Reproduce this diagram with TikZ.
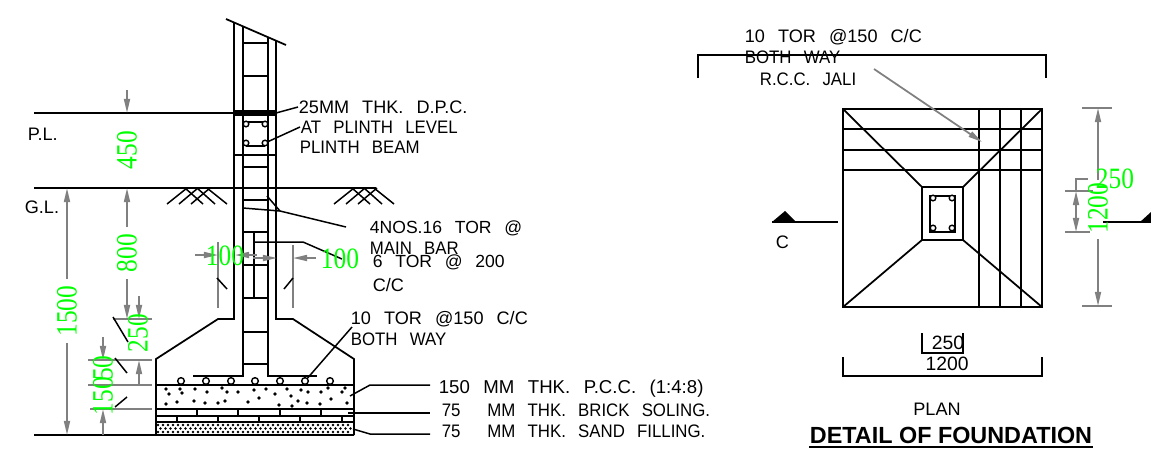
\documentclass[tikz,border=0pt]{standalone}
\usepackage{fontspec}
\setmainfont{Liberation Sans}
\newfontfamily\cadfont[WordSpace=2.6,FakeStretch=0.93]{Liberation Sans}
\newfontfamily\cadnum[WordSpace=2.6]{Liberation Sans}
\newfontfamily\dimfont[FakeStretch=0.86]{Liberation Serif}
\usetikzlibrary{%
  arrows.meta,%
  calc%
}

\begin{document}
\begin{tikzpicture}[
  x=0.02cm, y=-0.02cm,
  >={Stealth[length=8pt,width=3.4pt,inset=0pt]},
  line width=1pt,
  thin line/.style={line width=0.85pt},
  dimline/.style={draw=gray, line width=1pt},
  note/.style={inner sep=0pt, anchor=west, font=\cadfont\fontsize{10.3}{12}\selectfont},
  numnote/.style={note, font=\cadnum\fontsize{#1}{12}\selectfont},
  numnote/.default=10.3,
  dimtext/.style={inner sep=0pt, text=green, font=\dimfont\fontsize{16.8}{18}\selectfont},
  bar/.style={circle, draw=black, fill=white, inner sep=0pt, minimum size=3.2pt, line width=0.8pt}]

\useasboundingbox (0,0) rectangle (1151,451);

\draw (226,19) -- (286,45);
\draw (234,22) -- (234,319) -- (218,319) -- (156,359) -- (156,435);
\draw (276,41) -- (276,319) -- (293,319) -- (354,359) -- (354,435);
\draw (243,26) -- (243,376) -- (193,376);
\draw (268,37) -- (268,376) -- (317,376);
\fill (234,110) rectangle (276,116);

\foreach \y in {43,76,167,200,232,265,298,332,364} {
  \draw [thin line] (243,\y) -- (268,\y);
}
\draw [thin line] (234,155) -- (276,155);
\draw [thin line] (254,232) -- (254,298);
\draw [thin line] (246,122) -- (265,122);
\draw [thin line] (246,146) -- (265,146);
\foreach \x/\y in {246/124,265/124,246/143,265/143} {
  \node[bar] (b\x\y) at (\x,\y) {};
}

\draw (34,113) -- (234,113);
\draw (34,188) -- (376,188);
\draw (34,435) -- (156,435);
\foreach \s in {0,167} {
  \foreach \a/\b in {167/187,179/198,191/210} {
    \draw [thin line] (\a+\s,204) -- (\b+\s,188);
  }
  \foreach \a/\b in {185/203,197/215,207/227} {
    \draw [thin line] (\a+\s,188) -- (\b+\s,204);
  }
}

\draw (156,385) -- (354,385);
\draw (156,409) -- (354,409);
\draw [thin line] (156,416) -- (354,416);
\draw (156,422) -- (354,422);
\foreach \x in {197,238,280,321} {
  \draw [thin line] (\x,409) -- (\x,416);
}
\foreach \x in {177,218,259,300,342} {
  \draw [thin line] (\x,416) -- (\x,422);
}
\foreach \x in {158,163,...,352} {
  \fill (\x,425) circle (1.4);
  \fill (\x+2.5,428.5) circle (1.4);
  \fill (\x,432) circle (1.4);
}
\draw (156,435) -- (354,435);
\foreach \x in {181,206,231,255,280,305,330} {
  \node[bar, minimum size=3.8pt] (f\x) at (\x,381) {};
}
\foreach \x/\y in {166/389,169/394,180/389,182/393,195/389,207/392,222/388,227/392,238/392,254/390,266/389,275/394,287/389,291/396,301/390,308/392,321/392,328/388,342/392,345/388,
  166/404,177/402,194/401,205/403,218/403,225/401,248/402,259/398,279/405,292/406,298/401,307/403,320/404,331/399,347/403} {
  \fill (\x,\y) circle (1.9);
}

\node[numnote] (dpc) at (298,107) {25MM THK. D.P.C.};
\node[note] (plinthlevel) at (300,127) {AT PLINTH LEVEL};
\node[note] (plinthbeam) at (299,147) {PLINTH BEAM};
\node[numnote=10] (nos) at (369,228) {4NOS.16 TOR @};
\node[note] (mainbar) at (369,248) {MAIN BAR};
\node[numnote=10] (ties) at (372,262) {6 TOR @ 200};
\node[numnote] (tiescc) at (372,285) {C/C};
\node[numnote] (footbar) at (350,319) {10 TOR @150 C/C};
\node[note] (footway) at (350,339) {BOTH WAY};
\node[numnote=10.6] (pcc) at (438,389) {150 MM THK. P.C.C. (1:4:8)};
\node[note] (brick) at (441,410) {75\hspace{15.3pt}MM THK. BRICK SOLING.};
\node[note] (sand) at (441,431) {75\hspace{15.3pt}MM THK. SAND FILLING.};
\node[numnote] (pl) at (27,134) {P.L.};
\node[numnote] (gl) at (24,207) {G.L.};

\coordinate (nosend) at (346,227);
\coordinate (tiesend) at (342,259);
\coordinate (pccend) at (430,385);
\coordinate (brickend) at (430,413);
\coordinate (sandend) at (430,434);

\draw [thin line] (276,113) -- (dpc.west);
\draw [thin line] (b265143) -- (plinthlevel.west);
\draw [thin line] (243,208) -- (280,211) -- (nosend);
\draw [thin line] (267,196) -- (280,211);
\draw [thin line] (254,242) -- (303,242) -- (tiesend);
\draw [thin line] (f305) -- (352,327);
\draw [thin line] (350,396) -- (370,385) -- (pccend);
\draw [thin line] (348,413) -- (brickend);
\draw [thin line] (353,429) -- (370,434) -- (sandend);

\foreach \a/\b in {113/319,88/360,88/385,90/409} {
  \draw [dimline] (\a,\b) -- (152,\b);
}
\draw [dimline, ->] (127,90) -- (127,113);
\draw [dimline, ->] (127,227) -- (127,188);
\draw [dimline, ->] (127,279) -- (127,319);
\draw [dimline, ->] (139,296) -- (139,319);
\draw [dimline, ->] (139,385) -- (139,360);
\draw [dimline, ->] (103,337) -- (103,360);
\draw [dimline, ->] (103,435) -- (103,409);
\draw [dimline, ->] (67,279) -- (67,188);
\draw [dimline, ->] (67,343) -- (67,435);
\draw [dimline] (218,242) -- (218,308);
\draw [dimline] (293,245) -- (293,308);
\draw [dimline, ->] (195,255) -- (218,255);
\draw [dimline, ->] (257,255) -- (235,255);
\draw [dimline, ->] (253,258) -- (277,258);
\draw [dimline, ->] (316,258) -- (293,258);

\foreach \a/\b/\c/\d in {113/317/128/342,115/358/127/373,115/407/127/397,217/278/227/289,284/289/293/278} {
  \draw [thin line] (\a,\b) -- (\c,\d);
}

\node[dimtext, rotate=90] (d450) at (127,150) {450};
\node[dimtext, rotate=90] (d800) at (127,253) {800};
\node[dimtext, rotate=90] (d1500) at (67,311) {1500};
\node[dimtext, rotate=90] (d250) at (138,333) {250};
\node[dimtext, rotate=90] (d150) at (103,396) {150};
\node[dimtext, rotate=90] (d50) at (103,368) {50};
\node[dimtext] (d100a) at (225,256) {100};
\node[dimtext] (d100b) at (340,259) {100};

\draw (698,78) -- (698,55) -- (1046,55) -- (1046,78);
\node[numnote] (jalibar) at (744,37) {10 TOR @150 C/C};
\node[note] (jaliway) at (744,57) {BOTH WAY};
\node[note] (jali) at (759,79) {R.C.C. JALI};

\draw (843,109) rectangle (1042,307);
\foreach \y in {129,150,170} {
  \draw [thin line] (843,\y) -- (1042,\y);
}
\foreach \x in {979,1000,1021} {
  \draw [thin line] (\x,109) -- (\x,307);
}
\draw (922,187) rectangle (963,240);
\draw (843,109) -- (922,187);
\draw (1042,109) -- (963,187);
\draw (843,307) -- (922,240);
\draw (1042,307) -- (963,240);
\draw [line width=1.2pt] (930,196) rectangle (955,232);
\foreach \x/\y in {933/198,952/198,933/228,952/228} {
  \node[bar] (c\x\y) at (\x,\y) {};
}

\draw [dimline, ->] (874,69) -- (982,142);

\fill (772,222) -- (785,211) -- (796,222) -- cycle;
\draw (772,222) -- (838,222);
\node[numnote] (secl) at (775,242) {C};
\fill (1140,222) -- (1151,212) -- (1151,222) -- cycle;
\draw (1103,222) -- (1151,222);

\foreach \a/\c/\b in {1082/1112/108,1082/1112/306,1065/1093/191,1065/1090/232,1075/1088/179} {
  \draw [dimline] (\a,\b) -- (\c,\b);
}
\draw [dimline, ->] (1098,180) -- (1098,108);
\draw [dimline, ->] (1098,239) -- (1098,306);
\draw [dimline] (1076,179) -- (1076,191);
\draw [dimline, <->] (1076,191) -- (1076,232);
\node[dimtext, rotate=90] (d1200) at (1098,208) {1200};
\node[dimtext] (d250b) at (1115,179) {250};

\draw [thin line] (922,333) -- (922,353) -- (963,353) -- (963,333);
\draw [thin line] (843,357) -- (843,376) -- (1042,376) -- (1042,357);
\node[numnote=11, anchor=center] (p250) at (948,343) {250};
\node[numnote=11, anchor=center] (p1200) at (947,364) {1200};
\node[inner sep=0pt, font=\fontsize{10.3}{12}\selectfont] (plan) at (937,409) {PLAN};
\node[inner sep=0pt, font=\bfseries\fontsize{13.3}{14}\selectfont] (title) at (951,435) {DETAIL OF FOUNDATION};
\draw ($(title.west)+(0,12)$) -- ($(title.east)+(0,12)$);

\end{tikzpicture}
\end{document}
